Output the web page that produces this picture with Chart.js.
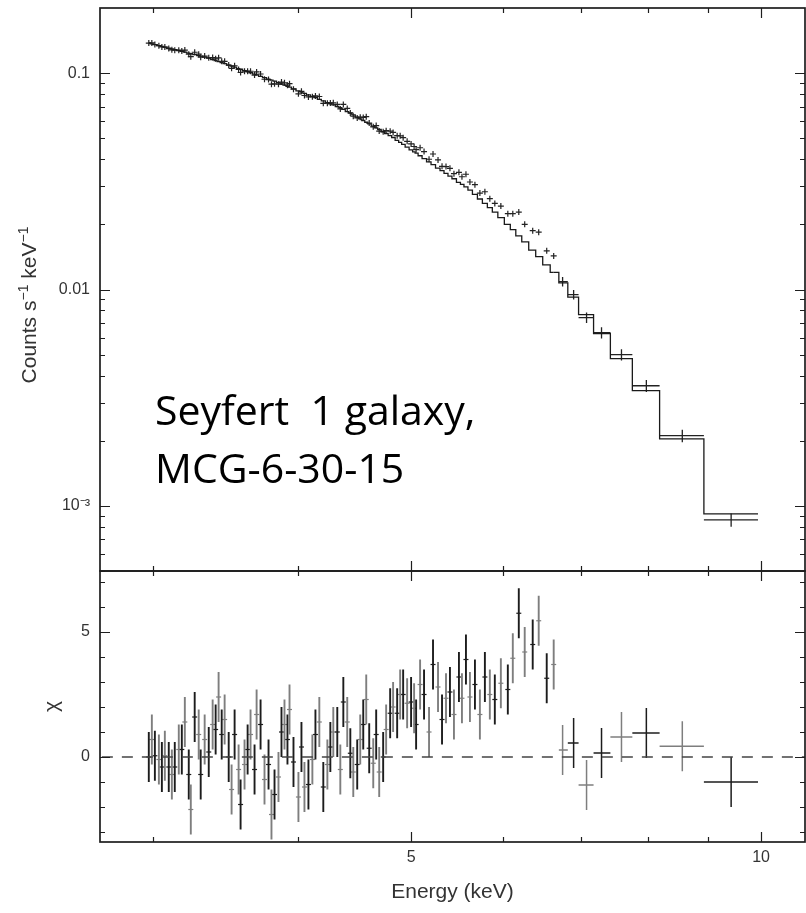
<!DOCTYPE html>
<html><head><meta charset="utf-8">
<script src="https://cdn.jsdelivr.net/npm/chart.js@4.4.1/dist/chart.umd.min.js"></script>
<style>
html,body{margin:0;padding:0;background:#fff;}
#wrap{position:relative;width:806px;height:913px;overflow:hidden;background:#fff;}
#c1{position:absolute;left:0;top:0;}
#c2{position:absolute;left:0;top:560px;}
#txt{position:absolute;left:0;top:0;}
</style></head><body>
<div id="wrap">
<canvas id="c1" width="806" height="580"></canvas>
<canvas id="c2" width="806" height="353"></canvas>
<svg id="txt" width="806" height="913" xmlns="http://www.w3.org/2000/svg">
  <text transform="translate(36,305) rotate(-90)" text-anchor="middle" font-family="'Liberation Sans', Arial, sans-serif" font-size="21" fill="#333">Counts s<tspan dy="-8" font-size="14">−1</tspan><tspan dy="8"> keV</tspan><tspan dy="-8" font-size="14">−1</tspan></text>
  <text x="155" y="425" font-family="'Open Sans', Lato, sans-serif" font-size="41" fill="#000" style="white-space:pre">Seyfert  1 galaxy,</text>
  <text x="155" y="483" font-family="'Open Sans', Lato, sans-serif" font-size="41" fill="#000">MCG-6-30-15</text>
</svg>
</div>
<script>
// ---------------- data ----------------
// Energy axis (keV), logarithmic
const xMin = 2.71, xMax = 10.91;
const xLabelTicks = [5, 10];
const xMinorTicks = [3, 4, 6, 7, 8, 9];
// Top panel y (Counts s^-1 keV^-1), logarithmic
const yTopMin = 0.0005, yTopMax = 0.2;
const yTopLabelTicks = [0.001, 0.01, 0.1];
const yTopLabelText = ['10⁻³', '0.01', '0.1'];
const yTopMinorTicks = [0.0005,0.0006,0.0007,0.0008,0.0009,0.002,0.003,0.004,0.005,0.006,0.007,0.008,0.009,0.02,0.03,0.04,0.05,0.06,0.07,0.08,0.09];
// Bottom panel y (chi)
const yChiMin = -3.4, yChiMax = 7.44;
const yChiLabelTicks = [0, 5];
const yChiMinorTicks = [-3, -2, -1, 1, 2, 3, 4, 6, 7];

// Narrow bins (centres, keV)
const energyDense = [2.974,2.992,3.010,3.034,3.052,3.070,3.094,3.113,3.131,3.156,3.175,3.194,3.219,3.232,3.257,3.283,3.296,3.322,3.349,3.375,3.395,3.415,3.436,3.456,3.484,3.504,3.525,3.553,3.567,3.595,3.617,3.638,3.667,3.682,3.711,3.740,3.770,3.792,3.815,3.845,3.868,3.891,3.914,3.930,3.961,4.000,4.024,4.048,4.080,4.112,4.137,4.169,4.202,4.236,4.261,4.286,4.320,4.346,4.372,4.406,4.433,4.459,4.494,4.521,4.548,4.575,4.602,4.639,4.666,4.694,4.731,4.759,4.797,4.825,4.864,4.893,4.922,4.961,5.000,5.030,5.050,5.090,5.130,5.181,5.222,5.274,5.316,5.358,5.400,5.443,5.497,5.530,5.574,5.618,5.674,5.730,5.787,5.844,5.902,5.973,6.056,6.116,6.189,6.262,6.362,6.438,6.541,6.632];
// Observed counts
const countsDense = [0.1377,0.1379,0.1356,0.1339,0.1322,0.1320,0.1298,0.1282,0.1277,0.1277,0.1267,0.1278,0.1224,0.1191,0.1249,0.1223,0.1185,0.1199,0.1177,0.1181,0.1164,0.1177,0.1135,0.1134,0.1089,0.1053,0.1082,0.1040,0.1007,0.1021,0.1021,0.1020,0.0980,0.1013,0.0991,0.0937,0.0934,0.0889,0.0892,0.0889,0.0909,0.0902,0.0880,0.0894,0.0843,0.0802,0.0824,0.0788,0.0776,0.0778,0.0785,0.0780,0.0725,0.0726,0.0728,0.0729,0.0717,0.0683,0.0717,0.0687,0.0655,0.0632,0.0621,0.0626,0.0624,0.0629,0.0588,0.0565,0.0572,0.0540,0.0536,0.0542,0.0539,0.0532,0.0514,0.0513,0.0503,0.0484,0.0471,0.0458,0.0443,0.0452,0.0434,0.0400,0.0423,0.0397,0.0371,0.0370,0.0363,0.0343,0.0348,0.0332,0.0341,0.0314,0.0305,0.0279,0.0283,0.0263,0.0250,0.0243,0.0224,0.0224,0.0228,0.0200,0.0187,0.0184,0.0151,0.0143];
// Model (folded continuum)
const modelDense = [0.1377,0.1366,0.1355,0.1341,0.1330,0.1319,0.1305,0.1295,0.1285,0.1271,0.1261,0.1251,0.1238,0.1231,0.1218,0.1205,0.1199,0.1186,0.1173,0.1156,0.1143,0.1131,0.1118,0.1106,0.1089,0.1077,0.1065,0.1050,0.1042,0.1026,0.1015,0.1004,0.0989,0.0982,0.0967,0.0953,0.0939,0.0929,0.0918,0.0903,0.0891,0.0880,0.0868,0.0861,0.0846,0.0828,0.0818,0.0807,0.0794,0.0780,0.0770,0.0757,0.0744,0.0731,0.0722,0.0713,0.0701,0.0692,0.0680,0.0664,0.0653,0.0641,0.0626,0.0615,0.0604,0.0593,0.0583,0.0569,0.0559,0.0549,0.0536,0.0526,0.0514,0.0504,0.0489,0.0479,0.0469,0.0455,0.0442,0.0433,0.0427,0.0415,0.0403,0.0389,0.0378,0.0364,0.0354,0.0344,0.0334,0.0325,0.0313,0.0306,0.0298,0.0288,0.0275,0.0262,0.0250,0.0239,0.0228,0.0215,0.0200,0.0189,0.0177,0.0166,0.0152,0.0142,0.0130,0.0120];
// Residuals (chi)
const chiDense = [0.0,0.7,0.05,-0.1,-0.4,0.05,-0.4,-0.7,-0.4,0.3,0.3,1.4,-0.7,-2.1,1.6,0.9,-0.7,0.7,0.2,1.3,1.1,2.4,0.9,1.5,0.0,-1.3,0.9,-0.5,-1.9,-0.3,0.3,0.9,-0.5,1.7,1.3,-0.9,-0.3,-2.3,-1.5,-0.8,1.0,1.3,0.7,1.9,-0.2,-1.6,0.4,-1.2,-1.1,-0.1,0.9,1.4,-1.2,-0.3,0.4,1.0,1.0,-0.5,2.2,1.4,0.15,-0.6,-0.3,0.7,1.3,2.3,0.35,-0.25,0.9,-0.6,0.0,1.1,1.75,2.0,1.75,2.5,2.5,2.15,2.2,1.95,1.3,2.9,2.5,1.0,3.7,2.8,1.5,2.35,2.6,1.7,3.2,2.35,3.9,2.4,2.9,1.7,3.2,2.5,2.3,2.95,2.7,3.95,5.75,4.2,4.5,5.45,3.15,3.7];

// Wide bins (keV)
const energyWideLo = [6.70, 6.82, 6.967, 7.177, 7.42, 7.75, 8.18, 8.93];
const energyWideHi = [6.82, 6.967, 7.177, 7.42, 7.75, 8.18, 8.93, 9.94];
const energyWide   = [6.750, 6.899, 7.078, 7.291, 7.585, 7.968, 8.556, 9.425];
const countsWide    = [0.01087, 0.00947, 0.00742, 0.00632, 0.00500, 0.00359, 0.00211, 0.000861];
const countsWideErr = [0.00054, 0.00047, 0.00041, 0.00038, 0.00030, 0.00023, 0.00014, 0.00006];
const modelEdges = [6.632, 6.70, 6.82, 6.967, 7.177, 7.42, 7.75, 8.18, 8.93, 9.94];
const modelWide  = [0.0120, 0.01072, 0.00922, 0.00766, 0.00626, 0.00479, 0.00341, 0.00204, 0.000918, 0.000918];
const chiWide = [0.28, 0.56, -1.12, 0.16, 0.8, 0.96, 0.43, -1.0];
const chiErr = 1; // residual error bars are +-1 sigma by definition

// ---------------- helpers ----------------
const tickFont = {family: "'Liberation Sans', Arial, sans-serif", size: 16};
const chiColor = i => (i % 2 ? '#7e7e7e' : '#1c1c1c');
function vSegs(xs, lo, hi) {
  const out = [];
  xs.forEach((x, i) => { out.push({x, y: lo[i]}, {x, y: hi[i]}, {x, y: null}); });
  return out;
}
function hSegs(lo, hi, ys) {
  const out = [];
  lo.forEach((l, i) => { out.push({x: l, y: ys[i]}, {x: hi[i], y: ys[i]}, {x: hi[i], y: null}); });
  return out;
}
function noPad(s) { s.paddingTop = 0; s.paddingBottom = 0; s.paddingLeft = 0; s.paddingRight = 0; }
const frameTicks = {
  id: 'frameTicks',
  afterDatasetsDraw(chart, args, o) {
    const {ctx, chartArea: a} = chart;
    const xs = chart.scales.x, ys = chart.scales.y;
    ctx.save();
    ctx.strokeStyle = '#1e1e1e';
    ctx.lineWidth = 1.2;
    ctx.beginPath();
    const xt = o.xMajor.map(v => [v, o.majorLen]).concat(o.xMinor.map(v => [v, o.minorLen]));
    xt.forEach(([v, len]) => {
      const p = Math.round(xs.getPixelForValue(v)) + 0.5;
      ctx.moveTo(p, a.top); ctx.lineTo(p, a.top + len);
      ctx.moveTo(p, a.bottom); ctx.lineTo(p, a.bottom - len);
    });
    const yt = o.yMajor.map(v => [v, o.majorLen]).concat(o.yMinor.map(v => [v, o.minorLen]));
    yt.forEach(([v, len]) => {
      const p = Math.round(ys.getPixelForValue(v)) + 0.5;
      ctx.moveTo(a.left, p); ctx.lineTo(a.left + len, p);
      ctx.moveTo(a.right, p); ctx.lineTo(a.right - len, p);
    });
    ctx.stroke();
    ctx.lineWidth = 1.7;
    ctx.strokeRect(a.left, a.top, a.right - a.left, a.bottom - a.top);
    ctx.restore();
  }
};

// ---------------- top panel ----------------
new Chart(document.getElementById('c1'), {
  type: 'line',
  data: {
    datasets: [
      { data: energyDense.map((x, i) => ({x, y: modelDense[i]})), stepped: 'middle',
        borderColor: '#1a1a1a', borderWidth: 1.3, pointRadius: 0, fill: false },
      { data: modelEdges.map((x, i) => ({x, y: modelWide[i]})), stepped: 'before',
        borderColor: '#1a1a1a', borderWidth: 1.3, pointRadius: 0, fill: false },
      { data: energyDense.map((x, i) => ({x, y: countsDense[i]})), showLine: false,
        pointStyle: 'cross', pointRadius: 3, pointBorderWidth: 1.2, pointBorderColor: '#222', borderColor: '#222' },
      { data: hSegs(energyWideLo, energyWideHi, countsWide), borderColor: '#222', borderWidth: 1.3, pointRadius: 0, spanGaps: false },
      { data: vSegs(energyWide, countsWide.map((c, i) => c - countsWideErr[i]), countsWide.map((c, i) => c + countsWideErr[i])),
        borderColor: '#222', borderWidth: 1.3, pointRadius: 0, spanGaps: false }
    ]
  },
  options: {
    responsive: false, animation: false, events: [],
    layout: {autoPadding: false, padding: {top: 8, bottom: 9, left: 0, right: 1}},
    plugins: {
      legend: {display: false}, tooltip: {enabled: false},
      frameTicks: {xMajor: xLabelTicks, xMinor: xMinorTicks, yMajor: yTopLabelTicks, yMinor: yTopMinorTicks, majorLen: 10, minorLen: 5}
    },
    scales: {
      x: {type: 'logarithmic', min: xMin, max: xMax, display: false, afterFit: noPad},
      y: {
        type: 'logarithmic', min: yTopMin, max: yTopMax,
        afterFit(s) { s.width = 100; noPad(s); },
        afterBuildTicks(s) { s.ticks = yTopLabelTicks.map(v => ({value: v})); },
        grid: {display: false, drawTicks: false}, border: {display: false},
        ticks: {font: tickFont, color: '#333', padding: 10, callback: (v, i) => yTopLabelText[i]}
      }
    }
  },
  plugins: [frameTicks]
});

// ---------------- bottom panel ----------------
new Chart(document.getElementById('c2'), {
  type: 'line',
  data: {
    datasets: [
      { data: [{x: xMin, y: 0}, {x: xMax, y: 0}], borderColor: '#444', borderWidth: 1.3,
        borderDash: [11, 9], pointRadius: 0 },
      { data: vSegs(energyDense, chiDense.map(c => c - chiErr), chiDense.map(c => c + chiErr)),
        borderWidth: 1.9, pointRadius: 0, spanGaps: false, borderColor: '#1c1c1c',
        segment: {borderColor: ctx => chiColor(Math.floor(ctx.p0DataIndex / 3))} },
      { data: energyDense.map((x, i) => ({x, y: chiDense[i]})), showLine: false,
        pointStyle: 'line', pointRadius: 2.5, pointBorderWidth: 1.2,
        pointBorderColor: chiDense.map((c, i) => chiColor(i)) },
      { data: vSegs(energyWide, chiWide.map(c => c - chiErr), chiWide.map(c => c + chiErr)),
        borderWidth: 1.5, pointRadius: 0, spanGaps: false, borderColor: '#1c1c1c',
        segment: {borderColor: ctx => chiColor(Math.floor(ctx.p0DataIndex / 3) + 1)} },
      { data: hSegs(energyWideLo, energyWideHi, chiWide), borderWidth: 1.5, pointRadius: 0,
        spanGaps: false, borderColor: '#1c1c1c',
        segment: {borderColor: ctx => chiColor(Math.floor(ctx.p0DataIndex / 3) + 1)} }
    ]
  },
  options: {
    responsive: false, animation: false, events: [],
    layout: {autoPadding: false, padding: {top: 11, bottom: 0, left: 0, right: 1}},
    plugins: {
      legend: {display: false}, tooltip: {enabled: false},
      frameTicks: {xMajor: xLabelTicks, xMinor: xMinorTicks, yMajor: yChiLabelTicks, yMinor: yChiMinorTicks, majorLen: 10, minorLen: 5}
    },
    scales: {
      x: {
        type: 'logarithmic', min: xMin, max: xMax,
        afterFit(s) { s.height = 71; noPad(s); },
        afterBuildTicks(s) { s.ticks = xLabelTicks.map(v => ({value: v})); },
        grid: {display: false, drawTicks: false}, border: {display: false},
        ticks: {font: tickFont, color: '#333', padding: 6, maxRotation: 0, autoSkip: false,
                callback: (v, i) => String(xLabelTicks[i])},
        title: {display: true, text: 'Energy (keV)', color: '#333',
                font: {family: "'Liberation Sans', Arial, sans-serif", size: 21}, padding: {top: 4, bottom: 8}}
      },
      y: {
        type: 'linear', min: yChiMin, max: yChiMax,
        afterFit(s) { s.width = 100; noPad(s); },
        afterBuildTicks(s) { s.ticks = yChiLabelTicks.map(v => ({value: v})); },
        grid: {display: false, drawTicks: false}, border: {display: false},
        ticks: {font: tickFont, color: '#333', padding: 10, callback: (v, i) => String(yChiLabelTicks[i])},
        title: {display: true, text: 'χ', color: '#333',
                font: {family: "'Liberation Sans', Arial, sans-serif", size: 21}, padding: {top: 40, bottom: 4}}
      }
    }
  },
  plugins: [frameTicks]
});
</script>
</body></html>
